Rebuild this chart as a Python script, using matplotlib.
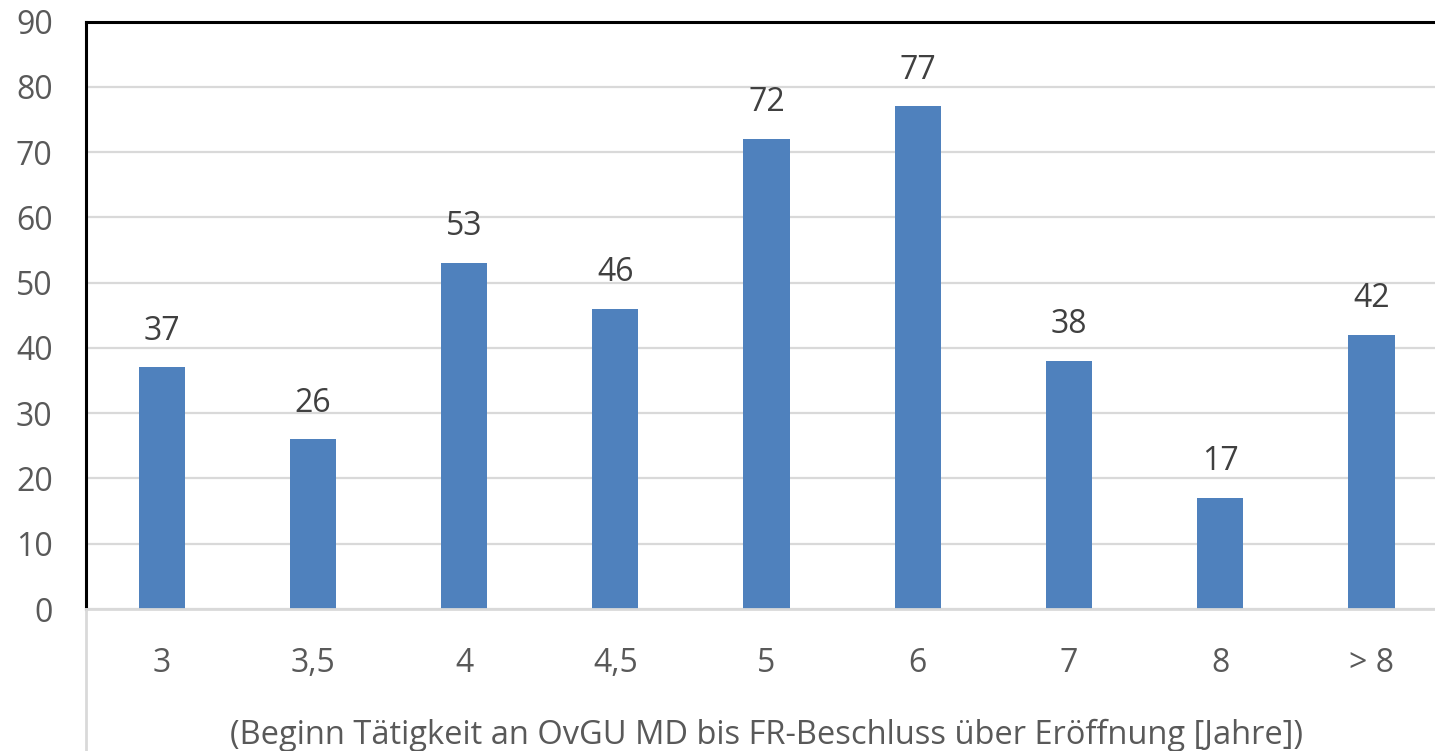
import matplotlib
matplotlib.use("Agg")
import matplotlib.pyplot as plt
from matplotlib.lines import Line2D

categories = ["3", "3,5", "4", "4,5", "5", "6", "7", "8", "> 8"]
values = [37, 26, 53, 46, 72, 77, 38, 17, 42]
y_ticks = [0, 10, 20, 30, 40, 50, 60, 70, 80, 90]
x_label = "(Beginn Tätigkeit an OvGU MD bis FR-Beschluss über Eröffnung [Jahre])"

plt.rcParams['font.family'] = ['Open Sans', 'DejaVu Sans']

W, H = 1435, 751
fig = plt.figure(figsize=(W / 100, H / 100), dpi=100)
left = 86 / W
bottom = (H - 609) / H
top = (H - 21.5) / H
ax = fig.add_axes([left, bottom, 1 - left, top - bottom])

x = list(range(len(categories)))
bars = ax.bar(x, values, width=0.305, color="#4F81BD", zorder=3)

ax.set_xlim(-0.5, 8.42)
ax.set_ylim(0, 90)
ax.set_yticks(y_ticks)
ax.set_yticklabels([str(v) for v in y_ticks])
ax.set_xticks(x)
ax.set_xticklabels(categories)

ax.yaxis.grid(True, color="#D9D9D9", linewidth=1.6, zorder=0)
ax.set_axisbelow(True)

ax.spines['left'].set_color("black")
ax.spines['left'].set_linewidth(2.2)
ax.spines['top'].set_color("black")
ax.spines['top'].set_linewidth(2.2)
ax.spines['right'].set_visible(False)
ax.spines['bottom'].set_color("#D9D9D9")
ax.spines['bottom'].set_linewidth(2.0)
ax.spines['bottom'].set_zorder(4)

ax.tick_params(axis='both', length=0, labelsize=23, colors="#595959")
ax.tick_params(axis='y', pad=24)
ax.tick_params(axis='x', pad=27)

for xi, v in zip(x, values):
    ax.annotate(str(v), xy=(xi, v), xytext=(0, 20), textcoords="offset points",
                ha="center", va="baseline", fontsize=23, color="#404040")

# gray vertical boundary line below the category axis
fig.add_artist(Line2D([left, left], [0, bottom], transform=fig.transFigure,
                      color="#D9D9D9", linewidth=2.0))

fig.text(767 / W, 1 - 735 / H, x_label, ha="center", va="center",
         fontsize=23.5, color="#595959")

fig.savefig("out.png", dpi=100)
